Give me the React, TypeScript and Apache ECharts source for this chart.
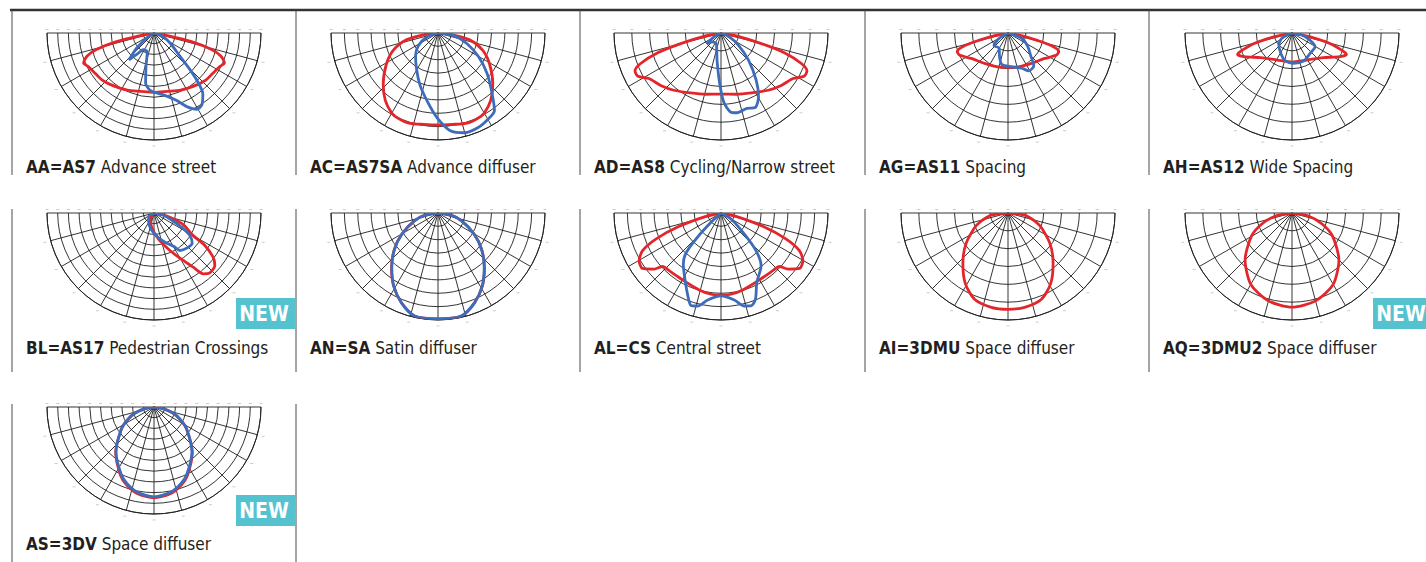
import React, { useEffect, useRef } from "react";
import * as echarts from "echarts";

type Pt = [number, number]; // [gamma in degrees from nadir (+ = right), intensity in grid-ring units]

// ---- photometric curves (red = C0-C180 plane, blue = C90-C270 plane) ----
const aaRedHalf: Pt[] = [[0, 5.55], [13, 5.6], [25, 5.9], [40, 6.3], [48, 6.55], [55, 6.65], [63, 6.9], [67, 7.15], [71, 6.6], [74, 5.6], [77, 3.6], [79, 1.3], [80, 0]];
const aaBlue: Pt[] = [[-60, 0], [-55.7, 0.83], [-49, 2.15], [-43, 3.43], [-38.4, 2.5], [-32.6, 1.86], [-19.7, 1.86], [-13.5, 3.2], [-9.5, 4.75], [-3.3, 5.4], [8.6, 5.85], [18.6, 6.66], [24, 7.53], [29.3, 8.17], [33.6, 8.07], [38.7, 7.3], [41.6, 6.27], [44.5, 4.8], [48, 3.3], [58, 1.77], [70.8, 0.76], [80, 0]];

const acRedHalf: Pt[] = [[0, 6.88], [9, 6.92], [18, 7.08], [25, 7.04], [30, 6.92], [38, 6.4], [47, 5.6], [59, 4.5], [69, 3.57], [78, 2.38], [83, 1.08], [88, 0.24], [90, 0]];
const acBlue: Pt[] = [[-80, 0], [-70, 0.88], [-57.5, 1.72], [-45, 2.37], [-32.5, 3.02], [-19.9, 4.04], [-9.3, 5.12], [-0.7, 6.32], [7.2, 7.36], [15, 7.72], [23, 7.68], [30.5, 7.44], [36, 7.18], [41.7, 6.08], [50.3, 4.78], [59.5, 3.54], [69.8, 2.32], [81.5, 1.18], [88, 0]];

const adRedHalf: Pt[] = [[0, 3.43], [14, 3.54], [27, 3.77], [39.5, 4.16], [49, 4.48], [57.7, 4.78], [62.5, 5.25], [66.2, 5.27], [69.2, 4.82], [72.6, 3.75], [75.3, 2.34], [79, 0.98], [82, 0]];
const adBlue: Pt[] = [[-70, 0], [-61, 0.47], [-52.7, 0.98], [-45, 0.71], [-23.6, 0.65], [-8.3, 1.54], [-1.5, 2.83], [2.2, 3.86], [6.7, 4.45], [11.3, 4.56], [19, 4.47], [24.7, 4.6], [30.5, 4.15], [36.7, 3.3], [45.3, 2.17], [55, 1.2], [66.5, 0.47], [75, 0]];

const agRedHalf: Pt[] = [[0, 1.93], [16.5, 1.98], [37.6, 2.15], [55.4, 2.51], [65.5, 2.99], [70, 3.03], [73.7, 2.54], [75.7, 1.74], [78.7, 0.76], [82, 0]];
const agBlue: Pt[] = [[-70, 0], [-59, 0.55], [-47.9, 1.06], [-31, 0.98], [-18.9, 1.45], [-10.7, 1.81], [5.7, 1.9], [20.9, 2.11], [28.8, 2.42], [38.2, 2.34], [45, 1.8], [56.8, 1.3], [69.4, 0.8], [80, 0]];

const ahRedHalf: Pt[] = [[0, 1.63], [28.8, 1.73], [51.7, 2.23], [63.6, 2.99], [68.5, 3.28], [70.5, 3.04], [74.5, 2.2], [77.7, 1.04], [81, 0]];
const ahBlue: Pt[] = [[-75, 0], [-63.4, 0.62], [-48.8, 0.98], [-27, 1.34], [-13.2, 1.61], [3.1, 1.7], [22.4, 1.7], [41.6, 1.53], [59, 1.51], [68.2, 1.09], [78.7, 0.56], [85, 0]];

const blRed: Pt[] = [[-60, 0], [-33.7, 0.56], [-9.2, 1.35], [9.5, 2.46], [23, 3.81], [31.6, 5.21], [35.9, 6.25], [39, 7.31], [43, 7.65], [49.2, 7.51], [53.2, 6.9], [57.4, 5.64], [60, 4.23], [68.3, 2.94], [74.8, 1.54], [80, 0.72], [85, 0]];
const blBlue: Pt[] = [[-70, 0], [-55.5, 0.6], [-20.2, 1.26], [0, 1.9], [18.2, 2.78], [30.7, 3.65], [34.6, 4.26], [43.6, 4.5], [51.6, 4.55], [57.8, 3.96], [62.6, 2.9], [68.4, 1.77], [77, 0.83], [85, 0]];

const anRedHalf: Pt[] = [[0, 7.91], [12.8, 7.89], [22.3, 7.23], [31.2, 6.4], [40.3, 5.37], [50.3, 4.24], [59.7, 3.12], [71.8, 1.83], [81.9, 0.87], [88, 0]];
const anBlueHalf: Pt[] = [[0, 7.92], [12.8, 7.9], [22.3, 7.24], [31.2, 6.38], [40.3, 5.34], [50.3, 4.22], [59.7, 3.12], [71.8, 1.84], [81.9, 0.88], [88, 0]];

const alRedHalf: Pt[] = [[0, 6.15], [7, 6.12], [15.8, 5.98], [28.5, 5.78], [40.4, 5.78], [47.6, 5.93], [50, 6.53], [54.8, 7.19], [59.7, 7.09], [64.3, 6.52], [68.2, 5.25], [72.3, 3.28], [77.5, 1.15], [82, 0]];
const alBlue: Pt[] = [[-55, 0], [-47, 1.02], [-43.9, 2.7], [-41.2, 3.98], [-36.4, 4.75], [-27.8, 5.74], [-21.8, 6.67], [-18.1, 7.26], [-14.1, 7.17], [-8.7, 6.58], [0, 6.2], [8.7, 6.58], [14.1, 7.17], [17.9, 7.3], [21.8, 6.94], [27.2, 5.85], [37.2, 4.96], [42.9, 3.86], [48, 2.35], [59, 0.87], [70, 0]];

const aiRedHalf: Pt[] = [[0, 5.4], [10, 5.37], [21.2, 5.19], [31.4, 4.61], [42, 3.78], [54.2, 2.89], [68.2, 1.92], [81.7, 1.04], [86, 0.5], [90, 0]];
const aqRedHalf: Pt[] = [[0, 5.28], [15, 5.1], [30, 4.62], [45, 3.72], [60, 2.64], [70, 1.8], [80, 0.9], [90, 0]];

const asRedHalf: Pt[] = [[0, 8.5], [10.6, 8.25], [19.3, 7.72], [26, 7.12], [40.2, 5.55], [55.6, 3.7], [63.9, 2.78], [72.5, 1.85], [82, 0.7], [90, 0]];
const asBlueHalf: Pt[] = [[0, 8.4], [10.6, 8.14], [19.3, 7.6], [26, 7.0], [40.2, 5.5], [55.6, 3.72], [63.9, 2.8], [72.5, 1.87], [82, 0.7], [90, 0]];

// ---- labels ----
const codes = ["AA=AS7", "AC=AS7SA", "AD=AS8", "AG=AS11", "AH=AS12", "BL=AS17", "AN=SA", "AL=CS", "AI=3DMU", "AQ=3DMU2", "AS=3DV"];
const names = ["Advance street", "Advance diffuser", "Cycling/Narrow street", "Spacing", "Wide Spacing", "Pedestrian Crossings", "Satin diffuser", "Central street", "Space diffuser", "Space diffuser", "Space diffuser"];
const ringCounts = [10, 8, 6, 6, 6, 10, 8, 8, 6, 6, 10];
const isNew = [false, false, false, false, false, true, false, false, false, true, true];

// symmetric plane: the half curve is mirrored onto the other side
const mirror = (half: Pt[]): Pt[] => [
  ...half.slice(1).reverse().map(([g, v]) => [-g, v] as Pt),
  ...half,
];

const redCurves: (Pt[] | null)[] = [
  mirror(aaRedHalf), mirror(acRedHalf), mirror(adRedHalf), mirror(agRedHalf), mirror(ahRedHalf),
  blRed, mirror(anRedHalf), mirror(alRedHalf), mirror(aiRedHalf), mirror(aqRedHalf), mirror(asRedHalf),
];
const blueCurves: (Pt[] | null)[] = [
  aaBlue, acBlue, adBlue, agBlue, ahBlue,
  blBlue, mirror(anBlueHalf), alBlue, null, null, mirror(asBlueHalf),
];

// ---- layout ----
const W = 1426;
const H = 562;
const R = 107;
const colLeft = [12, 296, 580, 865, 1149];
const colCenter = [154, 438, 721, 1008, 1292];
const rowTop = [33, 213, 407];
const rowBaseline = [174, 355, 551];
const rowBorder: [number, number][] = [[10, 175], [209, 372], [404, 562]];
const rowBadgeTop = [298, 298, 495];
const RED = "#e4262b";
const BLUE = "#3d6cbb";
const GRID = "#1e1e1e";
const FONT = "'Liberation Sans Narrow', 'Arial Narrow', 'DejaVu Sans Condensed', sans-serif";

function buildOption() {
  const polar: any[] = [];
  const angleAxis: any[] = [];
  const radiusAxis: any[] = [];
  const series: any[] = [];
  const graphic: any[] = [];

  codes.forEach((code, i) => {
    const row = Math.floor(i / 5);
    const col = i % 5;
    const cx = colCenter[col];
    const cy = rowTop[row];
    const n = ringCounts[i];
    polar.push({ center: [cx, cy], radius: R });
    angleAxis.push({
      polarIndex: i,
      type: "value",
      min: -90,
      max: 90,
      interval: 15,
      startAngle: 180,
      endAngle: 360,
      clockwise: false,
      axisLine: { show: true, lineStyle: { color: GRID, width: 0.9 } },
      axisTick: { show: false },
      axisLabel: { show: false },
      splitLine: { show: true, lineStyle: { color: GRID, width: 0.9 } },
    });
    radiusAxis.push({
      polarIndex: i,
      type: "value",
      min: 0,
      max: n,
      interval: 1,
      axisLine: { show: false },
      axisTick: { show: false },
      axisLabel: { show: false },
      splitLine: { show: true, lineStyle: { color: GRID, width: 0.9 } },
    });
    const red = redCurves[i];
    if (red) {
      series.push({
        type: "line",
        coordinateSystem: "polar",
        polarIndex: i,
        data: red.map(([g, v]) => [v, g]),
        showSymbol: false,
        smooth: 0.25,
        lineStyle: { color: RED, width: 2.8 },
        z: 3,
      });
    }
    const blue = blueCurves[i];
    if (blue) {
      series.push({
        type: "line",
        coordinateSystem: "polar",
        polarIndex: i,
        data: blue.map(([g, v]) => [v, g]),
        showSymbol: false,
        smooth: 0.25,
        lineStyle: { color: BLUE, width: 2.8 },
        z: 4,
      });
    }

    // tiny scale marks above the top line and round the outer arc
    for (let k = -n; k <= n; k++) {
      graphic.push({
        type: "rect",
        shape: { x: cx + (k * R) / n - 1.5, y: cy - 4, width: 3, height: 0.7 },
        style: { fill: "#b5b5b5" },
        silent: true,
      });
    }
    for (let a = -75; a <= 75; a += 15) {
      const rad = (a * Math.PI) / 180;
      graphic.push({
        type: "rect",
        shape: { x: cx + (R + 6) * Math.sin(rad) - 1.5, y: cy + (R + 6) * Math.cos(rad) - 0.4, width: 3, height: 0.7 },
        style: { fill: "#b5b5b5" },
        silent: true,
      });
    }

    // label
    graphic.push({
      type: "text",
      silent: true,
      style: {
        x: colLeft[col] + 14,
        y: rowBaseline[row] - 7,
        text: `{b|${code}}{r| ${names[i]}}`,
        verticalAlign: "middle",
        align: "left",
        rich: {
          b: { fontFamily: FONT, fontSize: 17, fontWeight: "bold", fill: "#231f20", color: "#231f20" },
          r: { fontFamily: FONT, fontSize: 17, fontWeight: "normal", fill: "#231f20", color: "#231f20" },
        },
      },
    });

    if (isNew[i]) {
      const bx = colLeft[col] + 224;
      const by = rowBadgeTop[row];
      graphic.push({
        type: "rect",
        silent: true,
        shape: { x: bx, y: by, width: 59, height: 31 },
        style: { fill: "#55c3cf" },
      });
      graphic.push({
        type: "text",
        silent: true,
        style: {
          x: bx + 28,
          y: by + 16,
          text: "NEW",
          align: "center",
          verticalAlign: "middle",
          fill: "#ffffff",
          fontFamily: FONT,
          fontSize: 21,
          fontWeight: "bold",
        },
      });
    }
  });

  // top rule
  graphic.push({
    type: "line",
    silent: true,
    shape: { x1: 10, y1: 10, x2: W, y2: 10 },
    style: { stroke: "#333333", lineWidth: 2.6 },
  });
  // panel separators
  rowBorder.forEach(([y1, y2], row) => {
    const cols = row === 2 ? [0, 1] : [0, 1, 2, 3, 4];
    cols.forEach((c) => {
      graphic.push({
        type: "line",
        silent: true,
        shape: { x1: colLeft[c], y1, x2: colLeft[c], y2 },
        style: { stroke: "#4a4a4a", lineWidth: 1 },
      });
    });
  });

  return {
    animation: false,
    backgroundColor: "#ffffff",
    polar,
    angleAxis,
    radiusAxis,
    series,
    graphic,
  };
}

export default function App() {
  const ref = useRef<HTMLDivElement>(null);
  useEffect(() => {
    if (!ref.current) return;
    const chart = echarts.init(ref.current, null, { renderer: "svg" });
    chart.setOption(buildOption() as any);
    return () => chart.dispose();
  }, []);
  return (
    <div
      ref={ref}
      style={{ position: "fixed", left: 0, top: 0, width: W, height: H, background: "#fff" }}
    />
  );
}
